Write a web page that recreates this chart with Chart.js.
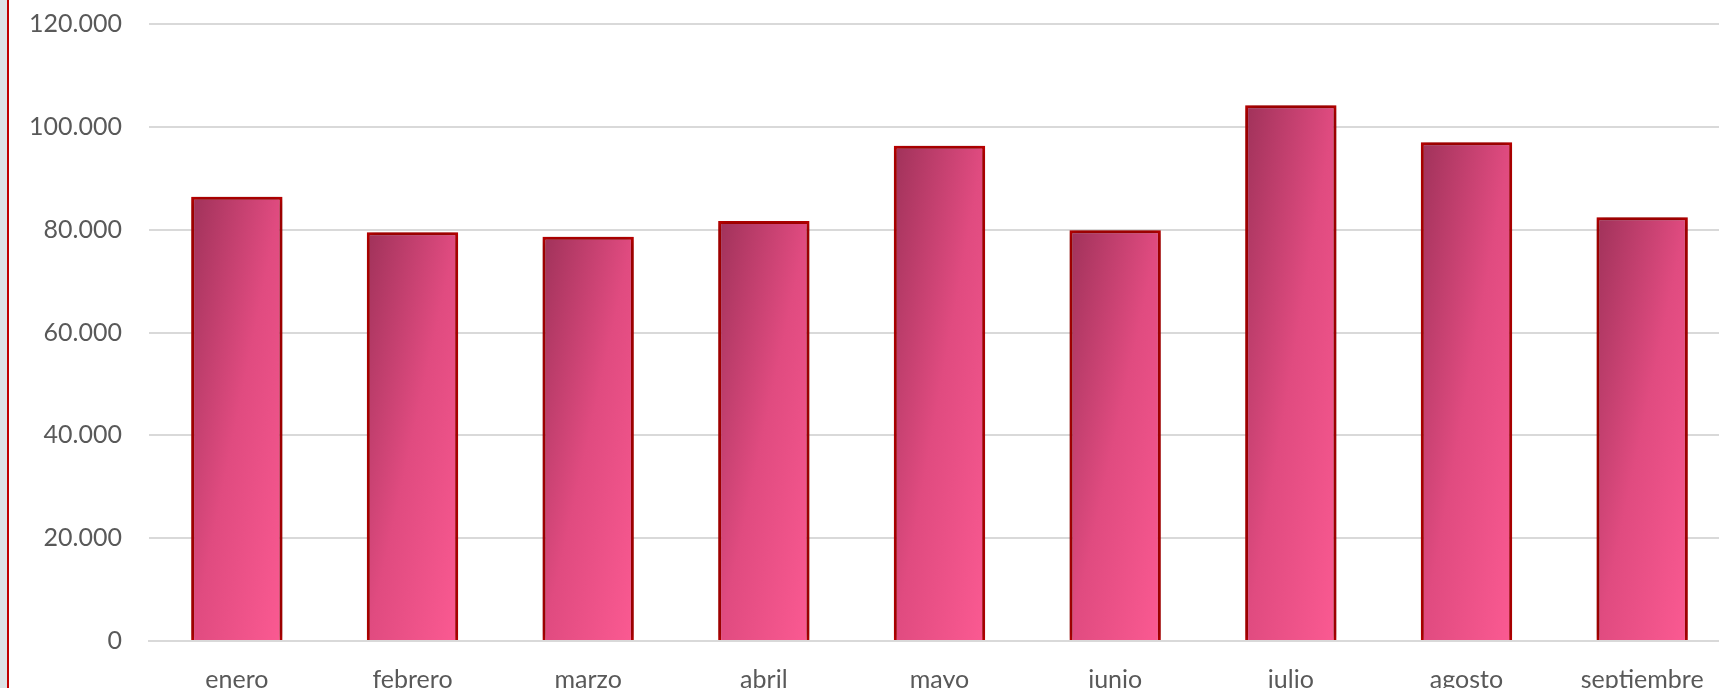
<!DOCTYPE html>
<html>
<head>
<meta charset="utf-8">
<script src="https://cdn.jsdelivr.net/npm/chart.js@4/dist/chart.umd.min.js"></script>
<style>
  html, body { margin: 0; padding: 0; overflow: hidden; background: #dde3e6; }
  #frame {
    position: absolute; left: 7px; top: 0; width: 1740px; height: 688px;
    border-left: 2px solid #c00000; background: #fff;
  }
  #wrap { position: absolute; left: 0; top: 0; width: 1721px; height: 688px; }
</style>
</head>
<body>
<div id="frame"><div id="wrap"><canvas id="c"></canvas></div></div>
<script>
// Monthly values
const months = ['enero', 'febrero', 'marzo', 'abril', 'mayo', 'junio', 'julio', 'agosto', 'septiembre'];
const values = [86400, 79500, 78600, 81700, 96300, 79900, 104200, 97000, 82400];
const yTicks = [0, 20000, 40000, 60000, 80000, 100000, 120000];

const TEXT = '#595959';
const GRID = '#d9d9d9';

function fmt(v) {
  return String(v).replace(/\B(?=(\d{3})+(?!\d))/g, '.');
}

// Excel-like gradient: dark top-left to pink bottom-right, scaled to the bar
function barFill(ctx) {
  const chart = ctx.chart;
  if (!chart.chartArea || !chart.scales.x || ctx.dataIndex == null) return '#e04b80';
  const xs = chart.scales.x, ys = chart.scales.y;
  const cw = (chart.chartArea.right - chart.chartArea.left) / months.length;
  const w = cw * 0.51;
  const cx = xs.getPixelForValue(ctx.dataIndex);
  const top = ys.getPixelForValue(values[ctx.dataIndex]);
  const bottom = ys.getPixelForValue(0);
  const h = Math.max(1, bottom - top);
  const left = cx - w / 2;
  const k = 2 * w * h / (h * h + w * w);
  const g = chart.ctx.createLinearGradient(left, top, left + h * k, top + w * k);
  g.addColorStop(0, '#a0325a');
  g.addColorStop(0.5, '#e04b80');
  g.addColorStop(1, '#fb5a92');
  return g;
}

const shadowPlugin = {
  id: 'barShadow',
  beforeDatasetsDraw(chart) {
    const c = chart.ctx;
    c.save();
    c.shadowColor = 'rgba(0,0,0,0.45)';
    c.shadowBlur = 9;
    c.shadowOffsetX = 0;
    c.shadowOffsetY = 0;
  },
  afterDatasetsDraw(chart) {
    chart.ctx.restore();
  },
};

new Chart(document.getElementById('c'), {
  type: 'bar',
  data: {
    labels: months,
    datasets: [{
      data: values,
      backgroundColor: barFill,
      borderColor: '#c00000',
      borderWidth: 3,
      borderSkipped: 'bottom',
      categoryPercentage: 1,
      barPercentage: 0.52,
    }],
  },
  options: {
    responsive: true,
    maintainAspectRatio: false,
    animation: false,
    layout: { padding: { top: 24, right: 0, bottom: 0, left: 0 } },
    plugins: {
      legend: { display: false },
      tooltip: { enabled: false },
    },
    scales: {
      x: {
        grid: { display: false, drawTicks: false },
        border: { color: GRID, width: 2 },
        ticks: {
          color: TEXT,
          font: { family: 'Lato', size: 25 },
          padding: 24,
          maxRotation: 0,
          autoSkip: false,
        },
        afterFit(scale) { scale.height = 47; },
      },
      y: {
        min: 0,
        max: 120000,
        afterBuildTicks(scale) { scale.ticks = yTicks.map((v) => ({ value: v })); },
        grid: { color: GRID, lineWidth: 2, drawTicks: false },
        border: { display: false },
        ticks: {
          color: TEXT,
          font: { family: 'Lato', size: 25 },
          padding: 27,
          callback: (v) => fmt(v),
        },
        afterFit(scale) {
          scale.width = 140;
          scale.paddingTop = 0;
          scale.paddingBottom = 0;
        },
      },
    },
  },
  plugins: [shadowPlugin],
});
</script>
</body>
</html>
